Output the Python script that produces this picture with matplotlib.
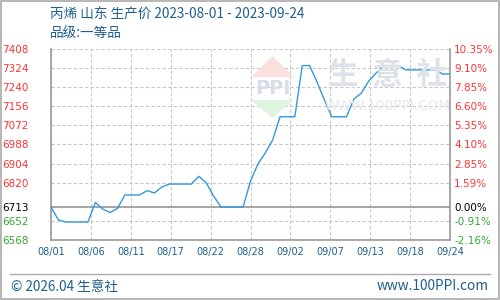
import matplotlib
matplotlib.use('Agg')
import matplotlib.pyplot as plt
from matplotlib.patches import Polygon, Rectangle
from matplotlib.lines import Line2D

plt.rcParams['font.family'] = ['Noto Sans CJK SC', 'DejaVu Sans']

# daily prices 2023-08-01 .. 2023-09-24 (day index 0..54)
prices = [6713, 6656, 6647, 6647, 6647, 6647, 6733, 6704, 6689, 6707,
          6766, 6766, 6766, 6785, 6775, 6801, 6814, 6814, 6814, 6814,
          6848, 6820, 6762, 6713, 6713, 6713, 6713, 6827, 6902, 6951,
          7008, 7110, 7110, 7110, 7335, 7335, 7263, 7184, 7110, 7110,
          7110, 7188, 7214, 7267, 7302, 7335, 7335, 7335, 7316, 7316,
          7316, 7316, 7316, 7298, 7298]
base_price = 6713
left_ticks = [6568, 6652, 6713, 6820, 6904, 6988, 7072, 7156, 7240, 7324, 7408]
right_labels = ['-2.16%', '-0.91%', '0.00%', '1.59%', '2.85%', '4.10%',
                '5.35%', '6.60%', '7.85%', '9.10%', '10.35%']
date_labels = ['08/01', '08/06', '08/11', '08/17', '08/22', '08/28',
               '09/02', '09/07', '09/13', '09/18', '09/24']

BLUE_TXT = '#1f5f8f'
RED = '#ff3333'
GREEN = '#33aa33'
GRID = '#c8c8c8'
AXIS = '#999999'

fig = plt.figure(figsize=(5, 3), dpi=100)
ax = fig.add_axes([0.102, 0.2, 0.798, 0.6367])

# watermark
fig.patches.append(Polygon([[0.505, 0.745], [0.545, 0.81], [0.585, 0.745]], closed=True,
                           transform=fig.transFigure, color='#fbe0e0', zorder=0))
fig.patches.append(Polygon([[0.505, 0.665], [0.545, 0.61], [0.585, 0.665]], closed=True,
                           transform=fig.transFigure, color='#e0f2e0', zorder=0))
fig.text(0.545, 0.705, 'PPI', color='#d8dce8', fontsize=14, fontweight='bold',
         ha='center', va='center', family='DejaVu Sans', zorder=0)
fig.text(0.774, 0.75, '生  意  社', color='#dde1ea', fontsize=22, fontweight='bold',
         ha='center', va='center', zorder=0)
fig.text(0.775, 0.647, 'WWW.100PPI.COM', color='#e6e8ee', fontsize=9.8,
         ha='center', va='center', family='DejaVu Sans', zorder=0)
ax.set_facecolor('none')

days = list(range(len(prices)))
ax.plot(days, prices, color='#3399dd', lw=1.0, zorder=3)

ax.set_xlim(0, 54)
ax.set_ylim(left_ticks[0], left_ticks[-1])

xt = [i * 5.4 for i in range(len(date_labels))]
ax.set_xticks(xt)
ax.set_xticklabels(date_labels, fontsize=7, color=BLUE_TXT, family='DejaVu Sans')
ax.set_yticks(left_ticks)
ax.set_yticklabels([str(v) for v in left_ticks], fontsize=7.5, family='DejaVu Sans')
ax.tick_params(length=0)
ax.tick_params(axis='x', pad=5)
ax.tick_params(axis='y', pad=16)

for lab, v in zip(ax.get_yticklabels(), left_ticks):
    lab.set_color(RED if v > base_price else ('black' if v == base_price else GREEN))

ax.grid(True, color=GRID, linestyle=(0, (3, 2)), lw=0.8)
ax.axhline(base_price, color=AXIS, lw=1.2, zorder=2)
for side in ['left', 'right', 'bottom']:
    ax.spines[side].set_color(AXIS)
    ax.spines[side].set_linewidth(1.2)
ax.spines['top'].set_visible(False)

ax2 = ax.twinx()
ax2.set_ylim(ax.get_ylim())
ax2.set_yticks(left_ticks)
ax2.set_yticklabels(right_labels, fontsize=7.5, family='DejaVu Sans')
ax2.tick_params(length=0, pad=3)
for lab, v in zip(ax2.get_yticklabels(), left_ticks):
    lab.set_color(RED if v > base_price else ('black' if v == base_price else GREEN))
for s in ax2.spines.values():
    s.set_visible(False)

# titles
fig.text(0.1, 0.95, '丙烯 山东 生产价 2023-08-01 - 2023-09-24', color=BLUE_TXT,
         fontsize=9.8, ha='left', va='center')
fig.text(0.1, 0.89, '品级:一等品', color=BLUE_TXT, fontsize=9.8, ha='left', va='center')

# footer
fig.lines.append(Line2D([0.02, 0.98], [0.088, 0.088], transform=fig.transFigure,
                        color='#aaaaaa', lw=1))
fig.text(0.022, 0.045, '© 2026.04 生意社', color=BLUE_TXT, fontsize=9.8, ha='left', va='center')
fig.text(0.978, 0.045, 'www.100PPI.com', color=BLUE_TXT, fontsize=9.8, ha='right', va='center')

# outer border
fig.patches.append(Rectangle((0.001, 0.002), 0.997, 0.995, transform=fig.transFigure,
                             fill=False, edgecolor='#aaaaaa', lw=1.2))

fig.savefig('out.png', dpi=100)
